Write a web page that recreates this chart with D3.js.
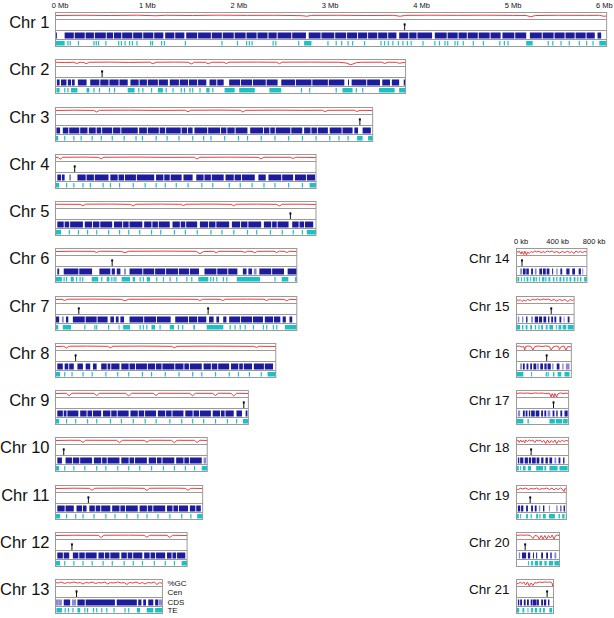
<!DOCTYPE html>
<html><head><meta charset="utf-8">
<script src="https://cdn.jsdelivr.net/npm/d3@7"></script>
<style>body{margin:0;background:#fff}svg{display:block}</style>
</head><body>
<script>
// ---------------- DATA ----------------
const chromNames = ["Chr 1","Chr 2","Chr 3","Chr 4","Chr 5","Chr 6","Chr 7","Chr 8","Chr 9","Chr 10","Chr 11","Chr 12","Chr 13",
  "Chr 14","Chr 15","Chr 16","Chr 17","Chr 18","Chr 19","Chr 20","Chr 21"];
// lengths in Mb
const chromLengths = [6.03,3.83,3.47,2.85,2.85,2.64,2.64,2.41,2.11,1.66,1.61,1.44,1.17,0.77,0.63,0.60,0.57,0.57,0.545,0.47,0.405];
// centromere positions in Mb
const centromeres = [[3.82],[0.51],[3.33],[0.21],[2.57],[0.62],[0.255,1.67],[0.22],[2.06],[0.09],[0.36],[0.18],[0.23],
  [0.06],[0.38],[0.33],[0.405],[0.16],[0.15],[0.095],[0.335]];
const mbTicks = [0,1,2,3,4,5,6];
const kbTicks = [0,400,800];
const trackLabels = ["%GC","Cen","CDS","TE"];

// %GC profiles: [position Mb, %GC]
const gc1 = [[0,43],[0.3,43.5],[0.6,43],[0.9,43.6],[1.1,42.5],[1.2,43.5],[1.5,43],[1.8,43.7],[2.1,43.2],[2.4,43.5],[2.7,42.6],[2.75,41.5],[2.8,43.2],[3.1,43.5],[3.4,43],[3.7,43.3],[3.77,41.5],[3.83,43.2],[4.1,43.6],[4.4,43.3],[4.7,43.6],[5.0,43.2],[5.15,43],[5.2,40.5],[5.25,43],[5.5,43.5],[5.8,43.2],[5.95,43.4],[6.0,41.5],[6.03,42]];
const gc2 = [[0,43.5],[0.1,43],[0.2,43.5],[0.23,41],[0.27,43.5],[0.31,43],[0.335,40.5],[0.37,43.5],[0.6,43.8],[0.8,43.2],[1.03,43.6],[1.065,40.5],[1.1,43.5],[1.3,43.8],[1.45,43.5],[1.485,40],[1.52,43.5],[1.64,43.4],[1.67,40.5],[1.71,43.5],[1.84,43.5],[1.87,41],[1.9,43.6],[2.2,43.8],[2.42,43.5],[2.45,40.5],[2.48,43.6],[2.8,43.8],[3.1,43.5],[3.18,42],[3.23,38.5],[3.29,42.5],[3.35,43.5],[3.57,43.6],[3.6,41],[3.64,43.5],[3.73,43.4],[3.76,41.5],[3.83,43.5]];
const gc3 = [[0,43],[0.2,43.6],[0.42,43.2],[0.45,40],[0.48,43.4],[0.8,43.7],[1.1,43.2],[1.42,43.5],[1.45,40.5],[1.48,43.5],[1.8,43.8],[2.02,43.4],[2.05,40],[2.08,43.3],[2.4,43.7],[2.7,43.3],[2.92,43.5],[2.95,40.5],[2.98,43.4],[3.27,43.5],[3.3,41],[3.33,43.3],[3.47,43]];
const gc4 = [[0,43],[0.03,43.5],[0.05,39.5],[0.08,43.5],[0.3,43.8],[0.47,43.3],[0.5,40.5],[0.53,43.5],[0.9,43.8],[1.2,43.3],[1.52,43.5],[1.55,40],[1.58,43.4],[1.9,43.7],[2.22,43.3],[2.25,40.5],[2.28,43.5],[2.57,43.4],[2.6,41],[2.63,43.5],[2.85,43]];
const gc5 = [[0,43.5],[0.27,43.3],[0.3,40.5],[0.33,43.6],[0.6,43.8],[0.82,43.3],[0.85,40],[0.88,43.5],[1.15,43.8],[1.37,43.4],[1.4,41],[1.43,43.5],[1.7,43.8],[1.92,43.3],[1.95,40.5],[1.98,43.5],[2.2,43.7],[2.42,43.3],[2.45,40],[2.48,43.5],[2.7,43.6],[2.85,43]];
const gc6 = [[0,43],[0.2,43.5],[0.42,43.3],[0.45,41],[0.48,43.5],[0.72,43.2],[0.76,40.5],[0.8,43.4],[1.2,43.8],[1.54,43.3],[1.58,38.5],[1.62,43],[1.73,43.3],[1.76,40.5],[1.79,43.4],[2.04,43.2],[2.07,41],[2.1,43.5],[2.15,43],[2.18,40.5],[2.21,43.3],[2.39,43.5],[2.42,41],[2.45,43.6],[2.5,43.3],[2.53,41],[2.56,43.4],[2.64,43]];
const gc7 = [[0,43],[0.07,43.3],[0.1,41],[0.13,43.5],[0.4,43.8],[0.72,43.3],[0.76,40.5],[0.8,43.4],[1.2,43.7],[1.55,43.3],[1.58,41],[1.61,43.5],[1.8,43.4],[1.83,41],[1.86,43.5],[2.1,43.8],[2.28,43.4],[2.31,41],[2.34,43.5],[2.5,43.2],[2.53,40.5],[2.56,43.3],[2.64,43]];
const gc8 = [[0,43],[0.09,43.4],[0.12,40],[0.15,43.5],[0.35,43.8],[0.57,43.3],[0.6,40.5],[0.63,43.5],[0.95,43.8],[1.27,43.3],[1.3,40.5],[1.33,43.4],[1.7,43.7],[2.0,43.4],[2.17,43.3],[2.2,41],[2.23,43.5],[2.41,43]];
const gc9 = [[0,43],[0.12,43.4],[0.15,38.5],[0.18,43.5],[0.42,43.3],[0.45,39],[0.48,43.4],[0.77,43.3],[0.8,38],[0.83,43.5],[1.07,43.3],[1.1,39],[1.13,43.5],[1.47,43.3],[1.5,38.5],[1.53,43.4],[1.72,43.3],[1.75,39],[1.78,43.5],[1.92,43.3],[1.95,38],[1.98,43.4],[2.11,43]];
const gc10 = [[0,43],[0.15,43.5],[0.27,43.3],[0.3,39],[0.33,43.5],[0.67,43.3],[0.7,38.5],[0.73,43.4],[0.97,43.3],[1.0,39.5],[1.03,43.5],[1.27,43.3],[1.3,38.5],[1.33,43.4],[1.52,43.3],[1.55,39],[1.58,43.5],[1.66,43]];
const gc11 = [[0,43],[0.2,43.6],[0.37,43.3],[0.4,39.5],[0.43,43.5],[0.75,43.8],[0.97,43.3],[1.0,39],[1.03,43.5],[1.3,43.7],[1.42,43.3],[1.45,39.5],[1.48,43.4],[1.61,43]];
const gc12 = [[0,43],[0.2,43.5],[0.47,43.3],[0.5,39],[0.53,43.5],[0.8,43.7],[0.97,43.3],[1.0,39.5],[1.03,43.5],[1.22,43.3],[1.25,39],[1.28,43.4],[1.44,43]];
const gc13 = [[0,43],[0.03,42],[0.06,44],[0.1,41],[0.13,43],[0.16,42],[0.2,44],[0.24,42],[0.27,43],[0.3,40],[0.33,43],[0.37,42],[0.4,44],[0.44,41],[0.47,43],[0.5,42],[0.54,44],[0.57,40],[0.6,43],[0.64,42],[0.68,44],[0.72,42],[0.75,43],[0.78,39],[0.81,43],[0.85,42],[0.88,44],[0.92,41],[0.95,43],[0.98,40],[1.01,43],[1.05,42],[1.08,44],[1.11,39],[1.14,43],[1.17,41]];
const gc14 = [[0,44],[0.02,41],[0.03,44],[0.05,38],[0.06,43],[0.08,37],[0.09,44],[0.11,36],[0.12,42],[0.14,39],[0.16,43],[0.18,41],[0.2,44],[0.22,42],[0.25,44],[0.27,40],[0.29,43],[0.31,41],[0.34,44],[0.36,42],[0.39,44],[0.41,41],[0.44,43],[0.47,40],[0.5,43],[0.53,41],[0.56,44],[0.58,40],[0.6,43],[0.63,39],[0.65,44],[0.68,41],[0.7,44],[0.72,40],[0.74,43],[0.77,42]];
const gc15 = [[0,44],[0.02,40],[0.04,43],[0.06,39],[0.08,42],[0.1,40],[0.12,43],[0.15,41],[0.18,44],[0.2,42],[0.23,44],[0.26,42],[0.29,44],[0.32,43],[0.35,44],[0.38,41],[0.41,43],[0.44,40],[0.47,43],[0.5,41],[0.53,43],[0.56,39],[0.59,43],[0.61,41],[0.63,43]];
const gc16 = [[0,43],[0.03,44],[0.06,42],[0.08,43],[0.09,34],[0.1,43],[0.13,44],[0.16,43],[0.18,36],[0.2,43],[0.24,44],[0.28,43],[0.32,44],[0.36,43],[0.38,33],[0.4,42],[0.43,44],[0.46,43],[0.47,37],[0.49,43],[0.52,44],[0.54,36],[0.56,43],[0.6,42]];
const gc17 = [[0,43],[0.04,44],[0.08,43.5],[0.12,44],[0.16,43],[0.2,44],[0.24,43.5],[0.28,44],[0.32,43],[0.36,43.5],[0.38,36],[0.39,43],[0.41,34],[0.42,43],[0.44,32],[0.45,42],[0.48,44],[0.52,43],[0.55,44],[0.57,42]];
const gc18 = [[0,42],[0.015,44],[0.03,39],[0.045,44],[0.06,40],[0.075,43],[0.09,38],[0.1,44],[0.12,41],[0.14,44],[0.16,42],[0.18,44],[0.2,39],[0.22,44],[0.24,42],[0.26,44],[0.28,40],[0.3,43],[0.32,37],[0.34,44],[0.36,38],[0.38,43],[0.4,39],[0.42,44],[0.44,37],[0.46,43],[0.48,40],[0.5,44],[0.52,41],[0.54,43],[0.57,42]];
const gc19 = [[0,43],[0.02,40],[0.04,44],[0.07,42],[0.1,44],[0.13,41],[0.16,43],[0.19,42],[0.22,44],[0.25,41],[0.28,43],[0.3,42],[0.33,44],[0.36,41],[0.39,44],[0.41,40],[0.43,43],[0.46,41],[0.48,44],[0.5,42],[0.52,37],[0.53,43],[0.545,42]];
const gc20 = [[0,43],[0.04,44],[0.08,43.5],[0.12,44],[0.15,43],[0.18,37],[0.2,43],[0.23,42],[0.25,35],[0.27,43],[0.29,36],[0.31,43],[0.33,34],[0.35,43],[0.37,38],[0.39,44],[0.41,36],[0.43,43],[0.45,44],[0.47,42]];
const gc21 = [[0,43],[0.02,40],[0.04,44],[0.06,41],[0.08,44],[0.1,38],[0.12,44],[0.14,36],[0.16,42],[0.18,37],[0.2,43],[0.22,42],[0.25,44],[0.28,43],[0.31,44],[0.34,43.5],[0.37,44],[0.39,42],[0.395,34],[0.405,35]];
const gcProfiles = [gc1,gc2,gc3,gc4,gc5,gc6,gc7,gc8,gc9,gc10,gc11,gc12,gc13,gc14,gc15,gc16,gc17,gc18,gc19,gc20,gc21];

// CDS blocks [start, end, level(0 dark,1 light)] in Mb
const cds1 = [[0,0.015],[0.10,0.2],[0.21,0.32],[0.33,0.42],[0.43,0.55],[0.56,0.63],[0.64,0.72],[0.73,0.84],[0.85,0.95],[0.96,1.07],[1.08,1.18],[1.20,1.30],[1.31,1.41],[1.43,1.55],[1.56,1.70],[1.71,1.82],[1.83,1.95],[1.96,2.08],[2.09,2.20],[2.21,2.32],[2.33,2.42],[2.43,2.58],[2.59,2.74],[2.77,2.90],[2.91,3.05],[3.06,3.18],[3.19,3.30],[3.31,3.41],[3.42,3.52],[3.53,3.63],[3.64,3.73],[3.76,3.86],[3.87,3.95],[3.96,4.12],[4.15,4.28],[4.29,4.40],[4.41,4.50],[4.51,4.62],[4.63,4.75],[4.76,4.87],[4.89,5.02],[5.03,5.15],[5.19,5.32],[5.33,5.45],[5.46,5.57],[5.58,5.68],[5.69,5.80],[5.81,5.90],[5.93,5.97]];
const cds2 = [[0.015,0.045],[0.06,0.12],[0.135,0.17],[0.18,0.21],[0.245,0.34],[0.38,0.48],[0.49,0.58],[0.59,0.69],[0.70,0.79],[0.82,0.91],[0.92,1.0],[1.01,1.12],[1.13,1.23],[1.25,1.35],[1.36,1.45],[1.46,1.55],[1.56,1.65],[1.685,1.76],[1.77,1.84],[1.90,2.02],[2.03,2.15],[2.16,2.30],[2.31,2.43],[2.47,2.62],[2.63,2.8],[2.81,2.98],[2.99,3.16],[3.20,3.21],[3.24,3.40],[3.41,3.55],[3.575,3.66],[3.68,3.76],[3.81,3.83]];
const cds3 = [[0.01,0.05],[0.08,0.14],[0.15,0.26],[0.27,0.35],[0.365,0.44],[0.45,0.5],[0.51,0.62],[0.63,0.71],[0.72,0.9],[0.915,1.0],[1.01,1.13],[1.14,1.2],[1.21,1.37],[1.38,1.44],[1.45,1.5],[1.52,1.66],[1.67,1.8],[1.81,1.87],[1.88,1.96],[1.97,2.1],[2.13,2.27],[2.28,2.34],[2.35,2.4],[2.41,2.57],[2.58,2.7],[2.72,2.79],[2.8,2.86],[2.87,2.98],[3.0,3.13],[3.14,3.25],[3.27,3.31],[3.36,3.45]];
const cds4 = [[0.02,0.06],[0.07,0.1],[0.15,0.17,1],[0.24,0.33],[0.34,0.42],[0.43,0.58],[0.6,0.68],[0.69,0.75],[0.76,0.88],[0.89,1.08],[1.1,1.18],[1.19,1.25],[1.26,1.38],[1.4,1.5],[1.54,1.62],[1.63,1.7],[1.71,1.84],[1.86,1.95],[1.96,2.03],[2.04,2.18],[2.22,2.3],[2.33,2.47],[2.48,2.6],[2.62,2.74],[2.75,2.84]];
const cds5 = [[0.02,0.09],[0.1,0.15],[0.16,0.3],[0.32,0.4],[0.41,0.48],[0.49,0.62],[0.64,0.73],[0.74,0.8],[0.81,0.95],[0.97,1.05],[1.06,1.12],[1.13,1.25],[1.28,1.36],[1.37,1.42],[1.43,1.55],[1.58,1.67],[1.68,1.75],[1.76,1.9],[1.93,2.02],[2.03,2.1],[2.11,2.25],[2.28,2.36],[2.37,2.42],[2.43,2.55],[2.59,2.66],[2.67,2.72],[2.73,2.82]];
const cds6 = [[0.02,0.04],[0.09,0.25],[0.26,0.40],[0.48,0.60],[0.615,0.65],[0.67,0.71],[0.75,0.77,1],[0.81,0.95],[0.96,1.08],[1.09,1.2],[1.21,1.34],[1.35,1.46],[1.47,1.57],[1.63,1.76],[1.77,1.88],[1.89,1.99],[2.05,2.09],[2.11,2.15],[2.17,2.20,1],[2.23,2.36],[2.37,2.50],[2.54,2.64]];
const cds7 = [[0,0.04],[0.07,0.09,1],[0.115,0.14],[0.19,0.32],[0.33,0.45],[0.46,0.57],[0.6,0.64],[0.66,0.69],[0.71,0.75],[0.81,0.96],[0.97,1.1],[1.11,1.26],[1.31,1.45],[1.46,1.55],[1.56,1.65],[1.68,1.73],[1.76,1.79],[1.835,1.87],[1.9,2.02],[2.03,2.15],[2.16,2.27],[2.29,2.38],[2.39,2.46],[2.485,2.52],[2.56,2.59]];
const cds8 = [[0.02,0.08],[0.1,0.14],[0.15,0.2],[0.24,0.3],[0.33,0.38],[0.41,0.45],[0.5,0.56],[0.57,0.6],[0.61,0.7],[0.72,0.8],[0.81,0.87],[0.88,1.0],[1.01,1.09],[1.1,1.16],[1.17,1.3],[1.31,1.4],[1.41,1.46],[1.47,1.6],[1.62,1.7],[1.71,1.77],[1.78,1.9],[1.92,2.0],[2.01,2.05],[2.06,2.15],[2.17,2.28],[2.29,2.38]];
const cds9 = [[0.02,0.08],[0.09,0.12],[0.13,0.25],[0.27,0.34],[0.35,0.4],[0.41,0.5],[0.52,0.6],[0.61,0.67],[0.68,0.8],[0.82,0.9],[0.91,0.97],[0.98,1.1],[1.12,1.2],[1.21,1.27],[1.28,1.4],[1.42,1.5],[1.51,1.57],[1.58,1.7],[1.72,1.8],[1.81,1.85],[1.86,1.95],[1.98,2.04],[2.08,2.1]];
const cds10 = [[0.02,0.07],[0.11,0.18],[0.19,0.26],[0.27,0.4],[0.42,0.5],[0.51,0.56],[0.57,0.7],[0.72,0.8],[0.81,0.86],[0.87,1.0],[1.02,1.1],[1.11,1.16],[1.17,1.3],[1.32,1.4],[1.41,1.46],[1.47,1.6],[1.62,1.65,1]];
const cds11 = [[0.02,0.1],[0.11,0.2],[0.23,0.29],[0.3,0.34],[0.37,0.43],[0.44,0.49],[0.5,0.6],[0.62,0.7],[0.71,0.76],[0.77,0.9],[0.92,1.0],[1.01,1.06],[1.07,1.2],[1.22,1.28],[1.29,1.34],[1.35,1.45],[1.47,1.53],[1.54,1.59]];
const cds12 = [[0.02,0.08],[0.09,0.15],[0.19,0.25],[0.26,0.32],[0.33,0.45],[0.47,0.53],[0.54,0.59],[0.6,0.7],[0.72,0.78],[0.79,0.84],[0.85,0.95],[0.97,1.03],[1.04,1.09],[1.1,1.2],[1.22,1.27],[1.28,1.32],[1.33,1.42]];
const cds13 = [[0,0.03,1],[0.03,0.07,1],[0.09,0.16],[0.18,0.225,1],[0.24,0.32],[0.33,0.65],[0.67,0.89],[0.905,0.94],[0.96,0.99],[1.015,1.07],[1.09,1.125],[1.13,1.17,1]];
const cds14 = [[0.04,0.06,1],[0.07,0.1],[0.107,0.135],[0.16,0.18],[0.2,0.22,1],[0.25,0.28],[0.29,0.32],[0.33,0.36],[0.39,0.4],[0.435,0.45,1],[0.48,0.5],[0.545,0.58],[0.61,0.64],[0.68,0.705],[0.72,0.73,1]];
const cds15 = [[0.015,0.03,1],[0.06,0.075,1],[0.105,0.12],[0.16,0.18,1],[0.2,0.235],[0.245,0.28],[0.295,0.325],[0.345,0.36],[0.38,0.4],[0.415,0.435],[0.47,0.49],[0.515,0.525,1],[0.56,0.58]];
const cds16 = [[0.04,0.06,1],[0.07,0.09],[0.11,0.13],[0.15,0.17],[0.185,0.215],[0.22,0.245,1],[0.26,0.29],[0.305,0.33],[0.34,0.375],[0.39,0.405,1],[0.44,0.47],[0.5,0.515,1],[0.54,0.58,1]];
const cds17 = [[0.015,0.04,1],[0.07,0.09],[0.1,0.12],[0.135,0.15],[0.16,0.2],[0.21,0.25],[0.27,0.29],[0.305,0.325],[0.34,0.37,1],[0.395,0.415],[0.435,0.45],[0.48,0.5],[0.525,0.56]];
const cds18 = [[0.015,0.03],[0.04,0.075],[0.09,0.125],[0.135,0.16],[0.17,0.21],[0.22,0.25],[0.27,0.295],[0.317,0.343],[0.36,0.39],[0.415,0.435,1],[0.46,0.48],[0.51,0.525]];
const cds19 = [[0.015,0.04],[0.05,0.075],[0.105,0.125],[0.16,0.18],[0.2,0.22],[0.245,0.26,1],[0.29,0.305],[0.355,0.36,1],[0.435,0.45,1],[0.48,0.49],[0.515,0.53]];
const cds20 = [[0.025,0.04,1],[0.06,0.105],[0.125,0.15],[0.18,0.19],[0.215,0.22],[0.27,0.29],[0.325,0.345],[0.37,0.385],[0.415,0.435,1]];
const cds21 = [[0.015,0.03],[0.04,0.06],[0.08,0.1],[0.115,0.135],[0.155,0.175],[0.18,0.22],[0.225,0.245],[0.27,0.29],[0.3,0.325],[0.345,0.36]];
const cdsBlocks = [cds1,cds2,cds3,cds4,cds5,cds6,cds7,cds8,cds9,cds10,cds11,cds12,cds13,cds14,cds15,cds16,cds17,cds18,cds19,cds20,cds21];

// TE: single positions (Mb) or [start,end] blocks
const te1 = [[0,0.10],0.135,0.16,0.25,0.42,0.445,0.47,0.55,0.69,0.72,0.76,0.81,0.84,0.89,1.04,1.06,1.16,1.19,1.42,1.82,1.99,2.09,2.12,2.15,2.38,2.41,2.66,[2.72,2.80],2.98,3.07,3.13,3.20,3.25,3.38,3.56,3.60,3.64,3.69,3.75,3.80,3.85,3.89,4.02,4.15,4.20,4.26,4.29,4.37,4.40,4.46,4.57,4.68,4.86,4.91,4.95,[5.15,5.22],5.39,5.44,5.53,5.62,5.73,5.81,5.88,[5.95,6.03]];
const te2 = [[0.01,0.045],0.10,0.135,[0.17,0.24],[0.34,0.37],0.42,0.48,0.59,0.645,[0.79,0.865],0.91,0.955,1.05,[1.12,1.175],1.21,1.285,1.375,1.41,1.47,1.50,1.58,[1.65,1.685],1.72,[1.85,1.96],[2.01,2.18],[2.34,2.47],2.69,2.78,3.07,[3.14,3.25],3.29,3.36,[3.54,3.71],[3.76,3.83]];
const te3 = [[0,0.03],0.1,0.2,0.28,0.4,0.5,0.62,0.75,0.88,0.95,1.1,1.22,1.35,1.5,1.62,1.7,1.85,2.0,2.1,2.25,2.4,2.55,2.7,2.85,3.0,3.1,3.2,[3.3,3.36],[3.42,3.47]];
const te4 = [[0,0.04],0.12,0.2,0.3,0.38,0.52,0.6,0.7,0.85,0.98,1.1,1.2,1.32,1.45,1.6,1.72,1.9,2.02,2.15,2.28,2.4,2.55,2.7,[2.78,2.85]];
const te5 = [[0,0.06],0.15,0.25,0.35,0.45,0.58,0.7,0.8,0.92,1.05,1.15,1.3,1.42,1.55,1.7,1.82,1.95,2.1,2.2,2.35,2.48,2.6,2.7,[2.75,2.85]];
const te6 = [[0,0.07],0.093,0.12,[0.166,0.2],0.23,0.268,0.297,[0.396,0.468],0.505,[0.56,0.59],0.615,0.64,0.66,[0.724,0.815],[0.845,0.87],0.925,0.96,[0.998,1.034],1.107,1.18,1.253,1.326,1.436,1.49,[1.563,1.672],1.698,1.727,1.764,1.836,1.873,[1.983,2.237],2.4,[2.475,2.547],[2.62,2.64]];
const te7 = [[0,0.03],[0.08,0.17],0.32,0.43,0.45,0.58,[0.69,0.70],[0.74,0.815],0.925,0.96,0.998,[1.05,1.09],1.143,[1.25,1.297],1.344,1.391,[1.508,1.526],[1.654,1.836],1.91,1.964,2.02,2.074,2.165,2.274,2.31,2.383,2.42,[2.51,2.64]];
const te8 = [[0,0.05],0.1,0.18,0.3,0.4,0.55,0.68,0.8,0.95,1.05,1.2,1.35,1.5,1.6,1.75,1.9,2.0,2.12,2.25,[2.32,2.41]];
const te9 = [[0,0.04],0.12,0.22,0.35,0.45,0.6,0.72,0.85,0.98,1.1,1.25,1.38,1.5,1.62,1.75,1.88,1.98,[2.05,2.11]];
const te10 = [[0,0.04],0.1,0.2,0.32,0.45,0.55,0.68,0.8,0.92,1.05,1.18,1.3,1.42,1.52,[1.6,1.66]];
const te11 = [[0,0.05],0.12,0.22,0.3,0.42,0.55,0.65,0.78,0.9,1.0,1.12,1.25,1.38,1.48,[1.55,1.61]];
const te12 = [[0,0.05],0.1,0.2,0.3,0.4,0.52,0.62,0.75,0.85,0.95,1.08,1.2,1.3,[1.38,1.44]];
const te13 = [[0.01,0.07],0.105,0.14,0.19,[0.24,0.27],0.32,0.35,0.415,0.45,0.505,0.56,0.64,0.76,0.8,[0.89,0.925],[0.998,1.07],[1.09,1.17]];
const te14 = [[0.01,0.03],[0.05,0.06],[0.08,0.09],[0.11,0.13],[0.15,0.16],[0.18,0.2],0.215,[0.245,0.25],[0.28,0.305],0.32,[0.35,0.37],[0.4,0.415],0.44,[0.47,0.49],[0.51,0.525],[0.545,0.56],[0.58,0.6],[0.625,0.645],0.67,[0.695,0.71],[0.74,0.77]];
const te15 = [[0,0.04],[0.06,0.075],[0.1,0.12],[0.15,0.17],[0.2,0.215],0.245,[0.27,0.29],[0.32,0.34],[0.36,0.4],[0.43,0.44],[0.46,0.49],[0.505,0.545],[0.56,0.625]];
const te16 = [[0,0.075],[0.16,0.17],0.325,0.345,[0.4,0.415],[0.45,0.49],[0.525,0.58]];
const te17 = [[0,0.075],[0.12,0.135],[0.36,0.42],[0.43,0.5],[0.51,0.56]];
const te18 = [[0,0.025],[0.04,0.05],[0.07,0.1],[0.125,0.16],[0.215,0.29],[0.305,0.325],[0.36,0.45],[0.47,0.56]];
const te19 = [[0,0.025],[0.04,0.05],[0.105,0.125],0.16,[0.215,0.235],0.255,[0.29,0.32],[0.355,0.42],[0.46,0.475],[0.5,0.525],[0.54,0.545]];
const te20 = [[0.125,0.135],[0.16,0.18],[0.2,0.235],[0.25,0.28],[0.305,0.33],[0.355,0.4],[0.415,0.465]];
const te21 = [[0,0.03],[0.065,0.085],[0.12,0.13],[0.16,0.18],[0.2,0.225],[0.25,0.27],[0.29,0.31],[0.36,0.39]];
const teBlocks = [te1,te2,te3,te4,te5,te6,te7,te8,te9,te10,te11,te12,te13,te14,te15,te16,te17,te18,te19,te20,te21];

// ---------------- DRAWING ----------------
const W = 614, H = 618;
const svg = d3.select("body").append("svg").attr("width", W).attr("height", H)
  .style("font-family", "'Liberation Sans', Arial, sans-serif");

const pxPerMb = 91.4;
const xLeft = d3.scaleLinear().domain([0, 1]).range([55.5, 55.5 + pxPerMb]);
const xRight = d3.scaleLinear().domain([0, 1]).range([516.5, 516.5 + pxPerMb]);
const rowTop = r => Math.round(12 + 47.25 * r) + 0.5;
const hGC = 7, hCen = 11, hCDS = 9, hTE = 7;

const colGrid = "#9a9a9a";
const cdsColors = ["#1c1c9c", "#8888d4"];
const teColor = "#19c3c3";
const gcColor = "#f03c3c";

// top axis (Mb)
const axMb = d3.axisTop(xLeft).tickValues(mbTicks).tickSize(0).tickPadding(4)
  .tickFormat(d => d + " Mb");
const gAx = svg.append("g").attr("transform", `translate(0,${rowTop(0) - 0.5})`).call(axMb);
gAx.select(".domain").remove();
gAx.selectAll("text").attr("font-size", 7.5).attr("fill", "#111").attr("font-family", "'Liberation Sans', Arial, sans-serif")
  .attr("dx", d => d === 0 ? 4 : 0);

// right axis (kb)
const xRightKb = d3.scaleLinear().domain([0, 1000]).range(xRight.range());
const axKb = d3.axisTop(xRightKb).tickValues(kbTicks).tickSize(0).tickPadding(4).tickFormat(d => d + " kb");
const gAx2 = svg.append("g").attr("transform", `translate(0,${rowTop(5) - 0.5})`).call(axKb);
gAx2.select(".domain").remove();
gAx2.selectAll("text").attr("font-size", 7.5).attr("fill", "#111").attr("font-family", "'Liberation Sans', Arial, sans-serif")
  .attr("dx", 4);

chromNames.forEach((name, i) => {
  const right = i >= 13;
  const row = right ? i - 8 : i;
  const x = right ? xRight : xLeft;
  const top = rowTop(row);
  const len = chromLengths[i];
  const x0 = x(0), x1 = x(len);
  const yGC = top, yCen = top + hGC, yCDS = yCen + hCen, yTE = yCDS + hCDS, yBot = yTE + hTE;
  const g = svg.append("g");

  // label
  g.append("text").attr("x", right ? 509.5 : 49.5).attr("y", top + (right ? 14 : 15))
    .attr("text-anchor", "end").attr("font-size", right ? 13.5 : 16.5).attr("fill", "#111").text(name);

  // frame background
  g.append("rect").attr("x", x0).attr("y", yGC).attr("width", x1 - x0).attr("height", yBot - yGC)
    .attr("fill", "#fff");

  // GC line
  const gy = d3.scaleLinear().domain([36, 44]).range([yGC + hGC - 0.5, yGC + 2.5]).clamp(true);
  const line = d3.line().x(d => x(d[0])).y(d => gy(d[1]));
  g.append("path").datum(gcProfiles[i]).attr("d", line).attr("fill", "none")
    .attr("stroke", gcColor).attr("stroke-width", 1).attr("stroke-linejoin", "round");

  // CDS
  g.selectAll(".cds").data(cdsBlocks[i]).join("rect")
    .attr("x", d => x(d[0])).attr("y", yCDS + 2)
    .attr("width", d => Math.max(1, x(d[1]) - x(d[0]))).attr("height", hCDS - 3)
    .attr("fill", d => cdsColors[d[2] || 0]);

  // TE
  g.selectAll(".te").data(teBlocks[i]).join("rect")
    .attr("x", d => Array.isArray(d) ? x(d[0]) : x(d) - 0.5).attr("y", yTE + 1.5)
    .attr("width", d => Array.isArray(d) ? Math.max(1, x(d[1]) - x(d[0])) : 1.2).attr("height", hTE - 2.5)
    .attr("fill", teColor);

  // Centromeres
  centromeres[i].forEach(c => {
    g.append("line").attr("x1", x(c)).attr("x2", x(c)).attr("y1", yCen + 4).attr("y2", yCDS)
      .attr("stroke", "#111").attr("stroke-width", 1);
    g.append("rect").attr("x", x(c) - 1).attr("y", yCen + 4).attr("width", 2).attr("height", 2).attr("fill", "#111");
  });

  // frame and separators
  g.append("rect").attr("x", x0).attr("y", yGC).attr("width", x1 - x0).attr("height", yBot - yGC)
    .attr("fill", "none").attr("stroke", colGrid).attr("stroke-width", 1);
  [yCen, yCDS, yTE].forEach(yy => g.append("line").attr("x1", x0).attr("x2", x1).attr("y1", yy).attr("y2", yy)
    .attr("stroke", colGrid).attr("stroke-width", 1));

  // track legend for Chr 13
  if (i === 12) {
    const ys = [yGC + 6, yCen + 8.5, yCDS + 7.5, yTE + 6.5];
    trackLabels.forEach((t, k) => g.append("text").attr("x", x1 + 5).attr("y", ys[k])
      .attr("font-size", 8).attr("fill", "#111").text(t));
  }
});
</script>
</body></html>
